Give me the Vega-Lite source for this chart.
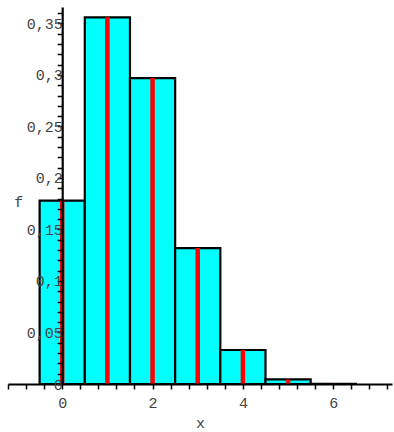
{
  "$schema": "https://vega.github.io/schema/vega-lite/v6.json",
  "width": 384,
  "height": 377,
  "autosize": "none",
  "padding": {"left": 8, "top": 7, "right": 2, "bottom": 48},
  "background": "white",
  "config": {"view": {"stroke": null}},
  "data": {"values": [
    {"k": 0, "bin_start": -0.5, "bin_end": 0.5, "f": 0.178},
    {"k": 1, "bin_start": 0.5, "bin_end": 1.5, "f": 0.356},
    {"k": 2, "bin_start": 1.5, "bin_end": 2.5, "f": 0.297},
    {"k": 3, "bin_start": 2.5, "bin_end": 3.5, "f": 0.132},
    {"k": 4, "bin_start": 3.5, "bin_end": 4.5, "f": 0.033},
    {"k": 5, "bin_start": 4.5, "bin_end": 5.5, "f": 0.0044},
    {"k": 6, "bin_start": 5.5, "bin_end": 6.5, "f": 0.00024}
  ]},
  "layer": [
    {
      "mark": {"type": "rect", "fill": "#00FFFF", "stroke": "black", "strokeWidth": 2.2},
      "encoding": {
        "x": {"field": "bin_start", "type": "quantitative",
          "scale": {"domain": [-1.2, 7.3], "nice": false, "zero": false},
          "axis": {
            "orient": "bottom",
            "values": [-1.2,-0.8,-0.4,0,0.4,0.8,1.2,1.6,2,2.4,2.8,3.2,3.6,4,4.4,4.8,5.2,5.6,6,6.4,6.8,7.2],
            "tickCount": 200,
            "labelExpr": "abs(datum.value - round(datum.value/2)*2) < 0.01 ? format(datum.value, 'd') : ''",
            "grid": false,
            "domainColor": "black", "domainWidth": 2.2,
            "tickColor": "black", "tickWidth": 1.5, "tickSize": 5,
            "labelFont": "Liberation Mono", "labelFontSize": 15, "labelColor": "#444444",
            "labelPadding": 6, "labelFlush": false, "labelOverlap": false,
            "title": "x", "titleFont": "Liberation Mono", "titleFontSize": 15, "titleFontWeight": "normal",
            "titleColor": "#444444", "titleY": 43, "titleBaseline": "alphabetic", "zindex": 1
          }
        },
        "x2": {"field": "bin_end"},
        "y": {"field": "f", "type": "quantitative",
          "scale": {"domain": [0, 0.366], "nice": false, "zero": true},
          "axis": {
            "orient": "left",
            "offset": -54.2,
            "values": [0,0.01,0.02,0.03,0.04,0.05,0.06,0.07,0.08,0.09,0.1,0.11,0.12,0.13,0.14,0.15,0.16,0.17,0.18,0.19,0.2,0.21,0.22,0.23,0.24,0.25,0.26,0.27,0.28,0.29,0.3,0.31,0.32,0.33,0.34,0.35,0.36],
            "tickCount": 200,
            "labelExpr": "abs(datum.value*20 - round(datum.value*20)) < 0.01 ? replace(format(datum.value, '.2~f'), '.', ',') : ''",
            "grid": false,
            "domainColor": "black", "domainWidth": 2.2,
            "tickColor": "black", "tickWidth": 1.5, "tickSize": 5,
            "labelFont": "Liberation Mono", "labelFontSize": 15, "labelColor": "#444444",
            "labelPadding": -5, "labelFlush": false, "labelOverlap": false,
            "title": "f", "titleFont": "Liberation Mono", "titleFontSize": 15, "titleFontWeight": "normal",
            "titleColor": "#444444", "titleAngle": 0, "titleX": -44, "titleY": 194,
            "titleAlign": "center", "titleBaseline": "middle", "zindex": 1
          }
        },
        "y2": {"datum": 0}
      }
    },
    {
      "mark": {"type": "rule", "color": "#FF0000", "strokeWidth": 4.5},
      "encoding": {
        "x": {"field": "k", "type": "quantitative"},
        "y": {"field": "f", "type": "quantitative"},
        "y2": {"datum": 0}
      }
    }
  ]
}
